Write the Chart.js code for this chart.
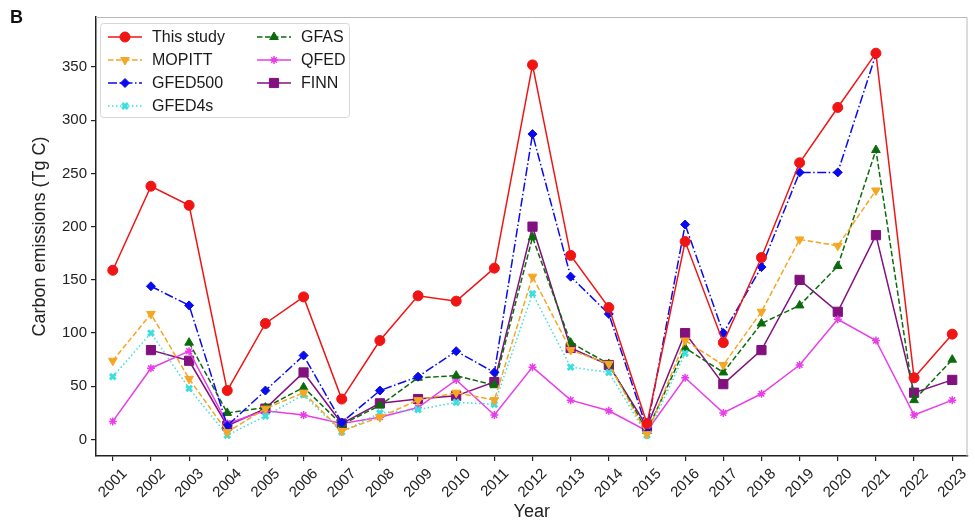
<!DOCTYPE html>
<html>
<head>
<meta charset="utf-8">
<script src="https://cdn.jsdelivr.net/npm/chart.js@4.4.1/dist/chart.umd.min.js"></script>
<style>
  html, body { margin: 0; padding: 0; background: #fff; }
</style>
</head>
<body>
<canvas id="emissionsChart" width="975" height="523"></canvas>
<script>
const years = [2001, 2002, 2003, 2004, 2005, 2006, 2007, 2008, 2009, 2010, 2011, 2012,
  2013, 2014, 2015, 2016, 2017, 2018, 2019, 2020, 2021, 2022, 2023];

const thisStudy = [159, 238, 220, 46, 109, 134, 38, 93, 135, 130, 161, 352, 173, 124, 15, 186, 91, 171, 260, 312, 363, 58, 99];
const mopitt = [74, 118, 57, 7, 29, 44, 8, 21, 37, 44, 37, 153, 84, 71, 5, 93, 70, 120, 188, 182, 234, null, null];
const gfed500 = [null, 144, 126, 13, 46, 79, 16, 46, 59, 83, 63, 287, 153, 118, 10, 202, 100, 162, 251, 251, 362, null, null];
const gfed4s = [59, 100, 48, 4, 22, 42, 7, 25, 28, 35, 33, 137, 68, 63, 4, 81, null, null, null, null, null, null, null];
const gfas = [null, null, 91, 25, 30, 49, 14, 32, 58, 60, 51, 190, 91, 71, 8, 86, 63, 109, 126, 163, 272, 37, 75];
const qfed = [17, 67, 83, 15, 27, 23, 15, 21, 30, 56, 23, 68, 37, 27, 8, 58, 25, 43, 70, 113, 93, 23, 37];
const finn = [null, 84, 74, 13, 29, 63, 15, 34, 38, 41, 54, 200, 86, 70, 12, 100, 52, 84, 150, 120, 192, 44, 56];

const yTicks = [0, 50, 100, 150, 200, 250, 300, 350];

function series(label, values, color, style, dash, radius, pw) {
  return {
    label: label,
    data: years.map((y, i) => ({ x: y, y: values[i] })),
    borderColor: color,
    backgroundColor: color,
    borderWidth: 1.5,
    borderDash: dash,
    pointStyle: style,
    pointRadius: radius,
    pointBorderWidth: pw,
    spanGaps: false,
    tension: 0
  };
}

const datasets = [
  series('This study', thisStudy, '#f01414', 'circle', [], 5, 1),
  series('MOPITT', mopitt, '#f5a623', 'triangle', [5.5, 2.5], 5, 1),
  series('GFED500', gfed500, '#0a0aee', 'rectRot', [9, 2.5, 1.5, 2.5], 4.5, 1),
  series('GFED4s', gfed4s, '#3ddede', 'crossRot', [1.5, 2.5], 4, 3),
  series('GFAS', gfas, '#0b6b0b', 'triangle', [5.5, 2.5], 5, 1),
  series('QFED', qfed, '#e83ee8', 'star', [], 4, 1.5),
  series('FINN', finn, '#82107f', 'rect', [], 6.5, 1)
];
datasets[1].pointRotation = 180;

const legendPos = [
  [108, 37], [108, 60], [108, 83], [108, 106],
  [257, 37], [257, 60], [257, 83]
];

const extras = {
  id: 'extras',
  afterDraw(chart) {
    const ctx = chart.ctx;
    const a = chart.chartArea;
    ctx.save();
    // light top / right frame
    ctx.strokeStyle = '#b8b8b8';
    ctx.lineWidth = 1;
    ctx.setLineDash([]);
    ctx.beginPath();
    ctx.moveTo(a.left, a.top + 0.5);
    ctx.lineTo(a.right - 0.5, a.top + 0.5);
    ctx.lineTo(a.right - 0.5, a.bottom);
    ctx.stroke();

    // panel letter
    ctx.fillStyle = '#111';
    ctx.font = 'bold 18px "Liberation Sans", Arial, sans-serif';
    ctx.textBaseline = 'top';
    ctx.fillText('B', 10, 9);

    // legend box
    ctx.fillStyle = 'rgba(255,255,255,0.85)';
    ctx.strokeStyle = '#d6d6d6';
    ctx.beginPath();
    ctx.roundRect(100.5, 23.5, 249, 94, 3);
    ctx.fill();
    ctx.stroke();

    ctx.font = '16px "Liberation Sans", Arial, sans-serif';
    ctx.textBaseline = 'middle';
    chart.data.datasets.forEach((ds, i) => {
      const [x, y] = legendPos[i];
      ctx.strokeStyle = ds.borderColor;
      ctx.lineWidth = ds.borderWidth;
      ctx.setLineDash(ds.borderDash);
      ctx.beginPath();
      ctx.moveTo(x, y);
      ctx.lineTo(x + 34, y);
      ctx.stroke();
      ctx.setLineDash([]);
      ctx.fillStyle = ds.backgroundColor;
      ctx.lineWidth = ds.pointBorderWidth;
      Chart.helpers.drawPoint(ctx, {
        pointStyle: ds.pointStyle,
        radius: ds.pointRadius,
        rotation: ds.pointRotation || 0,
        borderWidth: ds.pointBorderWidth
      }, x + 17, y);
      ctx.fillStyle = '#1a1a1a';
      ctx.fillText(ds.label, x + 44, y + 1);
    });
    ctx.restore();
  }
};

const tickFont = { family: '"Liberation Sans", Arial, sans-serif', size: 15 };
const titleFont = { family: '"Liberation Sans", Arial, sans-serif', size: 18 };

new Chart(document.getElementById('emissionsChart'), {
  type: 'line',
  data: { datasets: datasets },
  plugins: [extras],
  options: {
    responsive: false,
    animation: false,
    devicePixelRatio: 1,
    layout: { padding: { top: 17, right: 2, left: 0, bottom: 0 } },
    plugins: {
      legend: { display: false },
      tooltip: { enabled: false }
    },
    scales: {
      x: {
        type: 'linear',
        min: 2000.56,
        max: 2023.4,
        afterBuildTicks: s => { s.ticks = years.map(v => ({ value: v })); },
        afterFit: s => { s.height = 67; },
        ticks: {
          stepSize: 1,
          autoSkip: false,
          includeBounds: false,
          minRotation: 45,
          maxRotation: 45,
          padding: 4,
          labelOffset: 12,
          color: '#222',
          font: tickFont,
          callback: v => String(v)
        },
        grid: { drawOnChartArea: false, drawTicks: true, tickLength: 5, color: '#222', lineWidth: 1.2 },
        border: { display: true, color: '#222', width: 1.5 },
        title: { display: true, text: 'Year', color: '#222', font: titleFont, padding: { top: 0, bottom: 0 } }
      },
      y: {
        min: -15.5,
        max: 397,
        afterBuildTicks: s => { s.ticks = yTicks.map(v => ({ value: v })); },
        afterFit: s => { s.width = 96; },
        ticks: {
          includeBounds: false,
          padding: 4,
          color: '#222',
          font: tickFont
        },
        grid: { drawOnChartArea: false, drawTicks: true, tickLength: 5, color: '#222', lineWidth: 1.2 },
        border: { display: true, color: '#222', width: 1.5 },
        title: { display: true, text: 'Carbon emissions (Tg C)', color: '#222', font: titleFont, padding: { top: 29, bottom: 0 } }
      }
    }
  }
});
</script>
</body>
</html>
